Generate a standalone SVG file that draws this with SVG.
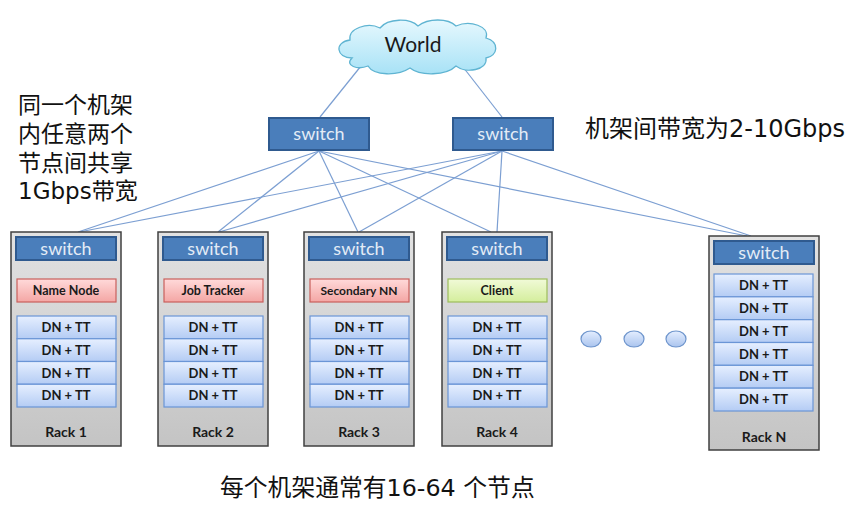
<svg xmlns="http://www.w3.org/2000/svg" width="864" height="507" viewBox="0 0 864 507">
<defs>
<linearGradient id="gRack" x1="0" y1="0" x2="0" y2="1"><stop offset="0" stop-color="#e2e2e2"/><stop offset="1" stop-color="#c4c4c4"/></linearGradient>
<linearGradient id="gDn" x1="0" y1="0" x2="0" y2="1"><stop offset="0" stop-color="#e6efff"/><stop offset="1" stop-color="#b4ccf4"/></linearGradient>
<linearGradient id="gRed" x1="0" y1="0" x2="0" y2="1"><stop offset="0" stop-color="#ffdada"/><stop offset="1" stop-color="#f4a6a4"/></linearGradient>
<linearGradient id="gGreen" x1="0" y1="0" x2="0" y2="1"><stop offset="0" stop-color="#f1fad8"/><stop offset="1" stop-color="#d4ee9c"/></linearGradient>
<linearGradient id="gCloud" x1="0" y1="0" x2="0" y2="1"><stop offset="0" stop-color="#e6f8fe"/><stop offset="1" stop-color="#a8e2f6"/></linearGradient>
<linearGradient id="gDot" x1="0" y1="0" x2="0" y2="1"><stop offset="0" stop-color="#e4eeff"/><stop offset="1" stop-color="#aac4ee"/></linearGradient>
</defs>
<style>
.rack{fill:url(#gRack);stroke:#404040;stroke-width:1.5}
.sw{fill:#4a7ebb;stroke:#2f5a8f;stroke-width:2}
.swt{font-family:Lato,"Open Sans",sans-serif;fill:#e4ecf6;text-anchor:middle}
.dn{fill:url(#gDn);stroke:#6a95d6;stroke-width:1.2}
.red{fill:url(#gRed);stroke:#c9605c;stroke-width:1.2}
.green{fill:url(#gGreen);stroke:#9dbd5c;stroke-width:1.2}
.lbl{font-family:Lato,"Open Sans",sans-serif;font-weight:bold;fill:#1a1a1a;text-anchor:middle}
.big{font-family:"DejaVu Sans","Noto Sans CJK SC",sans-serif;fill:#111}
.conn line{stroke:#7c9fd2;stroke-width:1.2}
.dot{fill:url(#gDot);stroke:#6d94cc;stroke-width:1.2}
</style>
<g class="conn" id="connectors">
<line x1="361" y1="66" x2="320" y2="117"/>
<line x1="463" y1="67" x2="502" y2="117"/>
<line x1="319" y1="151" x2="78" y2="232"/>
<line x1="319" y1="151" x2="218" y2="232"/>
<line x1="319" y1="151" x2="358" y2="232"/>
<line x1="319" y1="151" x2="491" y2="232"/>
<line x1="319" y1="151" x2="747" y2="236"/>
<line x1="502" y1="151" x2="79" y2="232"/>
<line x1="502" y1="151" x2="219" y2="232"/>
<line x1="502" y1="151" x2="359" y2="232"/>
<line x1="502" y1="151" x2="497" y2="232"/>
<line x1="502" y1="151" x2="751" y2="236"/>
</g>
<g id="world">
<path d="M352,58 C336,58 334,42 350,40 C348,28 368,22 380,28 C388,18 410,18 418,26 C428,18 448,18 456,26 C470,20 490,26 486,38 C500,42 498,56 486,58 C488,70 466,74 456,66 C446,76 420,76 410,68 C398,76 374,76 368,66 C358,70 344,66 352,58 Z" fill="url(#gCloud)" stroke="#5fb4d2" stroke-width="1.3"/>
<text x="413" y="52" font-family="Lato,'Open Sans',sans-serif" font-size="21" fill="#1a1a1a" text-anchor="middle">World</text>
</g>
<g id="core-switch-1"><rect class="sw" x="269" y="118" width="100" height="32"/><text class="swt" x="319" y="140" font-size="18">switch</text></g>
<g id="core-switch-2"><rect class="sw" x="453" y="118" width="100" height="32"/><text class="swt" x="503" y="140" font-size="18">switch</text></g>

<g id="rack-1">
<rect class="rack" x="11" y="232" width="110" height="214"/>
<rect class="sw" x="16" y="237" width="100" height="23"/><text class="swt" x="66" y="254.5" font-size="18">switch</text>
<rect class="red" x="17" y="279" width="99" height="23"/><text class="lbl" x="66" y="295" font-size="12.5">Name Node</text>
<rect class="dn" x="17" y="316" width="99" height="22.75"/><text class="lbl" x="66" y="332" font-size="13">DN + TT</text>
<rect class="dn" x="17" y="338.75" width="99" height="22.75"/><text class="lbl" x="66" y="354.8" font-size="13">DN + TT</text>
<rect class="dn" x="17" y="361.5" width="99" height="22.75"/><text class="lbl" x="66" y="377.5" font-size="13">DN + TT</text>
<rect class="dn" x="17" y="384.25" width="99" height="22.75"/><text class="lbl" x="66" y="400.3" font-size="13">DN + TT</text>
<text class="lbl" x="66" y="437" font-size="14">Rack 1</text>
</g>
<g id="rack-2">
<rect class="rack" x="158" y="232" width="110" height="214"/>
<rect class="sw" x="163" y="237" width="100" height="23"/><text class="swt" x="213" y="254.5" font-size="18">switch</text>
<rect class="red" x="164" y="279" width="99" height="23"/><text class="lbl" x="213" y="295" font-size="12.5">Job Tracker</text>
<rect class="dn" x="164" y="316" width="99" height="22.75"/><text class="lbl" x="213" y="332" font-size="13">DN + TT</text>
<rect class="dn" x="164" y="338.75" width="99" height="22.75"/><text class="lbl" x="213" y="354.8" font-size="13">DN + TT</text>
<rect class="dn" x="164" y="361.5" width="99" height="22.75"/><text class="lbl" x="213" y="377.5" font-size="13">DN + TT</text>
<rect class="dn" x="164" y="384.25" width="99" height="22.75"/><text class="lbl" x="213" y="400.3" font-size="13">DN + TT</text>
<text class="lbl" x="213" y="437" font-size="14">Rack 2</text>
</g>
<g id="rack-3">
<rect class="rack" x="304" y="232" width="110" height="214"/>
<rect class="sw" x="309" y="237" width="100" height="23"/><text class="swt" x="359" y="254.5" font-size="18">switch</text>
<rect class="red" x="310" y="279" width="99" height="23"/><text class="lbl" x="359" y="295" font-size="12">Secondary NN</text>
<rect class="dn" x="310" y="316" width="99" height="22.75"/><text class="lbl" x="359" y="332" font-size="13">DN + TT</text>
<rect class="dn" x="310" y="338.75" width="99" height="22.75"/><text class="lbl" x="359" y="354.8" font-size="13">DN + TT</text>
<rect class="dn" x="310" y="361.5" width="99" height="22.75"/><text class="lbl" x="359" y="377.5" font-size="13">DN + TT</text>
<rect class="dn" x="310" y="384.25" width="99" height="22.75"/><text class="lbl" x="359" y="400.3" font-size="13">DN + TT</text>
<text class="lbl" x="359" y="437" font-size="14">Rack 3</text>
</g>
<g id="rack-4">
<rect class="rack" x="442" y="232" width="110" height="214"/>
<rect class="sw" x="447" y="237" width="100" height="23"/><text class="swt" x="497" y="254.5" font-size="18">switch</text>
<rect class="green" x="448" y="279" width="99" height="23"/><text class="lbl" x="497" y="295" font-size="12.5">Client</text>
<rect class="dn" x="448" y="316" width="99" height="22.75"/><text class="lbl" x="497" y="332" font-size="13">DN + TT</text>
<rect class="dn" x="448" y="338.75" width="99" height="22.75"/><text class="lbl" x="497" y="354.8" font-size="13">DN + TT</text>
<rect class="dn" x="448" y="361.5" width="99" height="22.75"/><text class="lbl" x="497" y="377.5" font-size="13">DN + TT</text>
<rect class="dn" x="448" y="384.25" width="99" height="22.75"/><text class="lbl" x="497" y="400.3" font-size="13">DN + TT</text>
<text class="lbl" x="497" y="437" font-size="14">Rack 4</text>
</g>
<g id="rack-n">
<rect class="rack" x="709" y="236" width="110" height="214"/>
<rect class="sw" x="714" y="241" width="100" height="23"/><text class="swt" x="764" y="258.5" font-size="18">switch</text>
<rect class="dn" x="714" y="274" width="99" height="22.83"/><text class="lbl" x="763.5" y="290" font-size="13">DN + TT</text>
<rect class="dn" x="714" y="296.83" width="99" height="22.83"/><text class="lbl" x="763.5" y="312.8" font-size="13">DN + TT</text>
<rect class="dn" x="714" y="319.67" width="99" height="22.83"/><text class="lbl" x="763.5" y="335.7" font-size="13">DN + TT</text>
<rect class="dn" x="714" y="342.5" width="99" height="22.83"/><text class="lbl" x="763.5" y="358.5" font-size="13">DN + TT</text>
<rect class="dn" x="714" y="365.33" width="99" height="22.83"/><text class="lbl" x="763.5" y="381.3" font-size="13">DN + TT</text>
<rect class="dn" x="714" y="388.17" width="99" height="22.83"/><text class="lbl" x="763.5" y="404.2" font-size="13">DN + TT</text>
<text class="lbl" x="764" y="442" font-size="14">Rack N</text>
</g>
<g id="ellipsis">
<ellipse class="dot" cx="591" cy="339" rx="10" ry="8"/>
<ellipse class="dot" cx="634" cy="339" rx="10" ry="8"/>
<ellipse class="dot" cx="676" cy="339" rx="10" ry="8"/>
</g>
<g id="notes">
<text class="big" x="18" y="113" font-size="23">同一个机架</text>
<text class="big" x="18" y="142" font-size="23">内任意两个</text>
<text class="big" x="18" y="171" font-size="23">节点间共享</text>
<text class="big" x="18" y="199" font-size="23">1Gbps带宽</text>
<text class="big" x="585" y="137" font-size="24">机架间带宽为2-10Gbps</text>
<text class="big" x="220" y="496" font-size="23.8">每个机架通常有16-64 个节点</text>
</g>
</svg>
